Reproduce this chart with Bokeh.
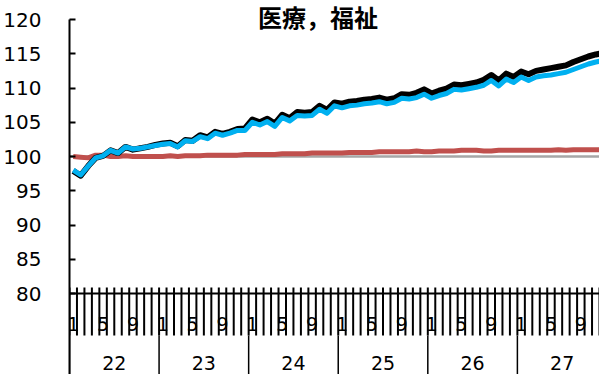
from bokeh.plotting import figure
from bokeh.models import Range1d, FixedTicker, Span
from bokeh.core.properties import value
from bokeh.embed import file_html
from bokeh.resources import INLINE

# Monthly index series, Jan 2022 - Dec 2027
title_text = "医療，福祉"
years = ["22", "23", "24", "25", "26", "27"]
month_labels = {0: "1", 4: "5", 8: "9"}
y_ticks = [80, 85, 90, 95, 100, 105, 110, 115, 120]

black_series = [
    97.9, 97.2, 98.6, 99.8, 100.1, 100.9, 100.5, 101.4, 101.0, 101.2, 101.4, 101.7,
    101.9, 102.0, 101.5, 102.4, 102.3, 103.1, 102.8, 103.6, 103.3, 103.6, 104.0, 104.1,
    105.4, 105.0, 105.5, 104.8, 106.1, 105.6, 106.5, 106.4, 106.5, 107.4, 106.8, 107.9,
    107.7, 108.0, 108.1, 108.3, 108.4, 108.6, 108.3, 108.5, 109.1, 109.0, 109.3, 109.8,
    109.2, 109.6, 109.9, 110.5, 110.4, 110.6, 110.8, 111.2, 111.9, 111.1, 112.1, 111.6,
    112.4, 112.0, 112.5, 112.7, 112.9, 113.1, 113.3, 113.8, 114.2, 114.6, 114.9, 115.1,
]
cyan_series = [
    98.0, 97.3, 98.6, 99.8, 100.1, 100.9, 100.5, 101.4, 101.1, 101.2, 101.4, 101.6,
    101.8, 101.9, 101.4, 102.3, 102.2, 102.9, 102.6, 103.4, 103.1, 103.4, 103.8, 103.8,
    105.0, 104.6, 105.1, 104.4, 105.7, 105.2, 106.0, 105.9, 106.0, 106.9, 106.3, 107.4,
    107.1, 107.4, 107.5, 107.7, 107.8, 108.0, 107.7, 107.9, 108.5, 108.4, 108.6, 109.1,
    108.5, 108.9, 109.2, 109.8, 109.7, 109.9, 110.1, 110.4, 111.1, 110.3, 111.3, 110.8,
    111.6, 111.1, 111.6, 111.8, 111.9, 112.1, 112.3, 112.7, 113.1, 113.5, 113.8, 114.0,
]
red_series = [
    100.0, 99.9, 99.8, 100.2, 100.2, 100.0, 100.0, 100.1, 100.0, 100.0, 100.0, 100.0,
    100.0, 100.1, 100.0, 100.1, 100.1, 100.1, 100.2, 100.2, 100.2, 100.2, 100.2, 100.3,
    100.3, 100.3, 100.3, 100.3, 100.4, 100.4, 100.4, 100.4, 100.5, 100.5, 100.5, 100.5,
    100.5, 100.6, 100.6, 100.6, 100.6, 100.7, 100.7, 100.7, 100.7, 100.7, 100.8, 100.7,
    100.7, 100.8, 100.8, 100.8, 100.9, 100.9, 100.9, 100.8, 100.8, 100.9, 100.9, 100.9,
    100.9, 100.9, 100.9, 100.9, 100.9, 101.0, 100.9, 101.0, 101.0, 101.0, 101.0, 101.0,
]
base_level = 100

FONT = "DejaVu Sans"
n = len(black_series)
x = [i + 0.5 for i in range(n)]

# Pixel offsets around the plotted band, converted to value units
px_per_unit = 6.85
def below(px):
    return y_ticks[0] - px / px_per_unit
def above(px):
    return y_ticks[-1] + px / px_per_unit

tick_top = y_ticks[0] + 6 / px_per_unit
tick_bottom = below(42)
month_text_y = below(30)
year_text_y = below(69)
y_bottom = below(81)
y_top = above(19)
title_y = above(3)

p = figure(
    width=599, height=374, output_backend="svg", toolbar_location=None,
    x_range=Range1d(0, 71.0), y_range=Range1d(y_bottom, y_top),
    x_axis_type=None,
    min_border_left=67, min_border_right=0, min_border_top=0, min_border_bottom=0,
)
p.outline_line_color = None
p.grid.visible = False

yax = p.yaxis[0]
yax.ticker = FixedTicker(ticks=y_ticks)
yax.bounds = (y_bottom, y_ticks[-1])
yax.major_tick_in = 6
yax.major_tick_out = 0
yax.minor_tick_line_color = None
yax.axis_line_width = 2
yax.major_tick_line_width = 2
yax.axis_line_color = "black"
yax.major_tick_line_color = "black"
yax.major_label_standoff = 28
yax.major_label_text_font = FONT
yax.major_label_text_font_size = "20px"
yax.major_label_text_color = "black"

# Reference level and category axis line
p.add_layout(Span(location=base_level, dimension="width", line_color="#A6A6A6",
                  line_width=2.5, level="underlay"))
p.add_layout(Span(location=y_ticks[0], dimension="width", line_color="black",
                  line_width=2))

# Month tick marks at category boundaries
bounds = list(range(0, n + 1))
p.segment(x0=bounds, x1=bounds, y0=[tick_top] * len(bounds), y1=[tick_bottom] * len(bounds),
          line_color="black", line_width=2)

# Year separators
year_bounds = [12 * k for k in range(len(years) + 1)]
p.segment(x0=year_bounds, x1=year_bounds, y0=[tick_bottom] * len(year_bounds),
          y1=[y_bottom] * len(year_bounds), line_color="black", line_width=1.5)

# Month labels
mx, mt = [], []
for k in range(len(years)):
    for m, lab in month_labels.items():
        mx.append(12 * k + m + 0.5)
        mt.append(lab)
p.text(x=mx, y=[month_text_y] * len(mx), text=mt, text_font=value(FONT),
       text_font_size="19px", text_align="center", text_baseline="middle", text_color="black")

# Year labels
p.text(x=[12 * k + 6 for k in range(len(years))], y=[year_text_y] * len(years), text=years,
       text_font=value(FONT), text_font_size="19px", text_align="center",
       text_baseline="middle", text_color="black")

# Series
p.line(x, red_series, line_color="#C0504D", line_width=5, line_join="round")
p.line(x, black_series, line_color="black", line_width=6, line_join="round")
p.line(x, cyan_series, line_color="#00B0F0", line_width=5, line_join="round")

# Chart title
p.text(x=[33.3], y=[title_y], text=[title_text], text_font=value("Noto Sans CJK JP"),
       text_font_style="bold", text_font_size="24px", text_align="center",
       text_baseline="middle", text_color="black")

open("out.html", "w").write(file_html(p, INLINE))
